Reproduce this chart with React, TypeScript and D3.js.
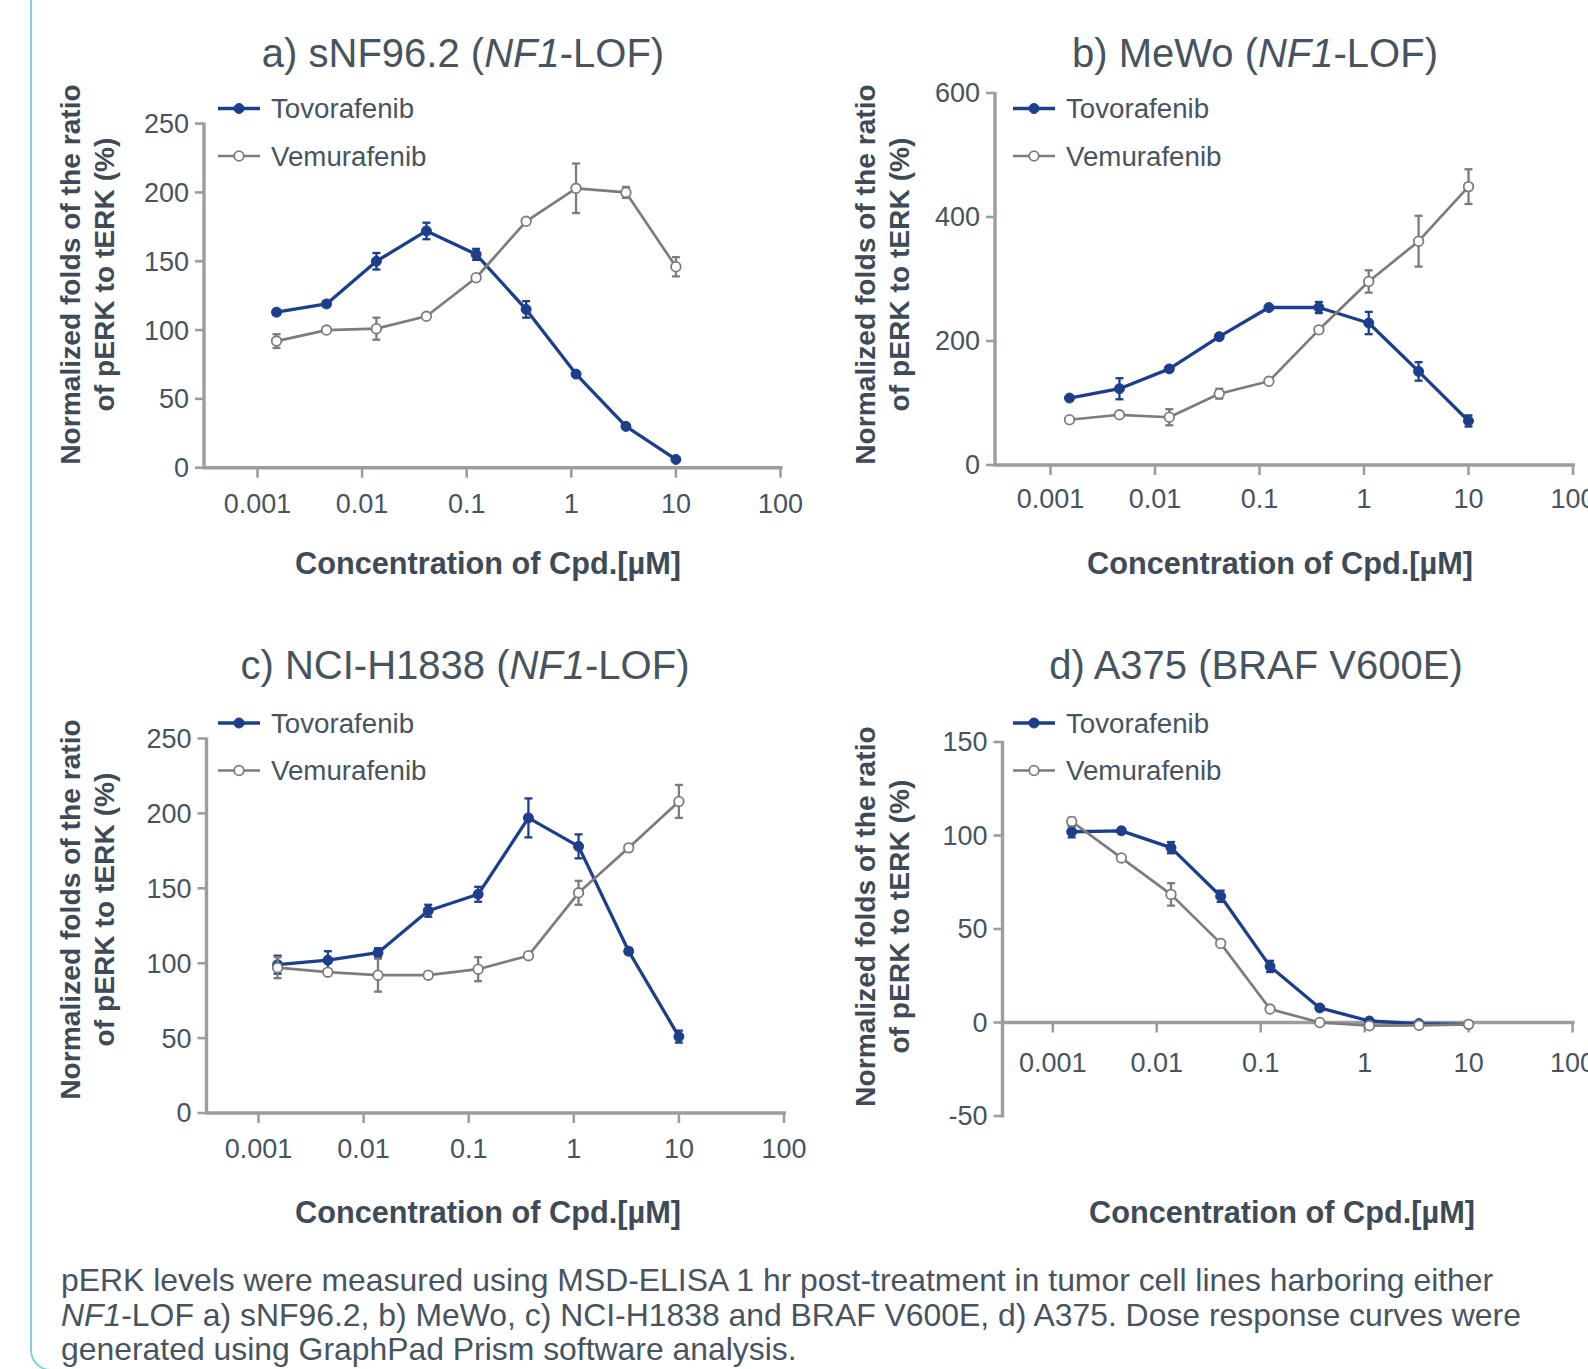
import React from "react";
import * as d3 from "d3";

// 3-fold dilution series, uM
const concentrations = [0.00152, 0.00457, 0.0137, 0.0412, 0.123, 0.37, 1.11, 3.33, 10];
const xTickValues = [0.001, 0.01, 0.1, 1, 10, 100];
const seriesNames = ["Tovorafenib", "Vemurafenib"];

// a) sNF96.2
const tovA = [113, 119, 150, 172, 155, 115, 68, 30, 6];
const tovAErr = [2, 2, 6, 6, 4, 6, 1, 1, 1];
const vemA = [92, 100, 101, 110, 138, 179, 203, 200, 146];
const vemAErr = [5, 1, 8, 1, 1, 1, 18, 4, 7];
const yTicksA = [0, 50, 100, 150, 200, 250];

// b) MeWo
const tovB = [108, 123, 155, 207, 254, 254, 229, 151, 71];
const tovBErr = [3, 17, 4, 3, 4, 9, 18, 15, 9];
const vemB = [73, 81, 77, 115, 135, 218, 296, 361, 449];
const vemBErr = [3, 4, 13, 8, 3, 3, 18, 41, 28];
const yTicksB = [0, 200, 400, 600];

// c) NCI-H1838
const tovC = [99, 102, 107, 135, 146, 197, 178, 108, 51];
const tovCErr = [6, 6, 3, 4, 5, 13, 8, 2, 4];
const vemC = [97, 94, 92, 92, 96, 105, 147, 177, 208];
const vemCErr = [7, 2, 11, 2, 8, 2, 8, 2, 11];
const yTicksC = [0, 50, 100, 150, 200, 250];

// d) A375
const tovD = [102, 102.5, 93.5, 67.5, 30, 7.8, 0.8, -0.6, -1];
const tovDErr = [3, 1, 3, 3, 3, 1, 1, 1, 1];
const vemD = [107.5, 88, 68.5, 42.3, 7.2, 0, -1.7, -1.5, -1];
const vemDErr = [2, 1, 6, 1, 1, 1, 1, 1, 1];
const yTicksD = [-50, 0, 50, 100, 150];

const caption = [
  "pERK levels were measured using MSD-ELISA 1 hr post-treatment in tumor cell lines harboring either",
  "-LOF a) sNF96.2, b) MeWo, c) NCI-H1838 and BRAF V600E, d) A375. Dose response curves were",
  "generated using GraphPad Prism software analysis.",
];

const TOV = "#1c3f8c";
const VEM = "#7c7c7c";
const AXIS = "#9a9ea2";
const TEXT = "#47545f";
const LABEL = "#3e4b57";
const FONT = "'Liberation Sans', Arial, Helvetica, sans-serif";

const panels = [
  {
    pre: "a) sNF96.2 (", ital: "NF1", post: "-LOF)",
    tov: tovA, tovErr: tovAErr, vem: vemA, vemErr: vemAErr, yTicks: yTicksA,
    left: 204, xr: [257.5, 780.5], yr: [467.7, 123.6],
    titleX: 463, titleY: 67, legX: 218, legY: 108.5,
    xTitleX: 488, xTitleY: 574, yTitleX: 70, yTitleY: 274.5, xLabDy: 45,
  },
  {
    pre: "b) MeWo (", ital: "NF1", post: "-LOF)",
    tov: tovB, tovErr: tovBErr, vem: vemB, vemErr: vemBErr, yTicks: yTicksB,
    left: 995, xr: [1050.5, 1573], yr: [465, 93],
    titleX: 1255, titleY: 67, legX: 1013, legY: 108.5,
    xTitleX: 1280, xTitleY: 574, yTitleX: 865, yTitleY: 274.5, xLabDy: 43,
  },
  {
    pre: "c) NCI-H1838 (", ital: "NF1", post: "-LOF)",
    tov: tovC, tovErr: tovCErr, vem: vemC, vemErr: vemCErr, yTicks: yTicksC,
    left: 206.5, xr: [258.5, 784], yr: [1113, 738.5],
    titleX: 465, titleY: 679, legX: 218, legY: 723,
    xTitleX: 488, xTitleY: 1223, yTitleX: 70, yTitleY: 909.5, xLabDy: 45,
  },
  {
    pre: "d) A375 (BRAF V600E)", ital: "", post: "",
    tov: tovD, tovErr: tovDErr, vem: vemD, vemErr: vemDErr, yTicks: yTicksD,
    left: 1002.5, xr: [1052.8, 1572.6], yr: [1116, 742],
    titleX: 1256, titleY: 679, legX: 1013, legY: 723,
    xTitleX: 1282, xTitleY: 1223, yTitleX: 865, yTitleY: 916.6, xLabDy: 49,
  },
];

function Panel({ p }) {
  const yMin = p.yTicks[0];
  const yMax = p.yTicks[p.yTicks.length - 1];
  const x = d3.scaleLog().domain([0.001, 100]).range(p.xr);
  const y = d3.scaleLinear().domain([yMin, yMax]).range(p.yr);
  const y0 = y(Math.max(0, yMin));
  const line = d3
    .line<number>()
    .x((d, i) => x(concentrations[i]))
    .y((d) => y(d));

  const series = [
    { name: seriesNames[0], vals: p.tov, err: p.tovErr, color: TOV, width: 3.3, open: false },
    { name: seriesNames[1], vals: p.vem, err: p.vemErr, color: VEM, width: 2.7, open: true },
  ];

  return (
    <g>
      <text x={p.titleX} y={p.titleY} fontSize={40} fill={TEXT} textAnchor="middle">
        {p.pre}
        {p.ital && <tspan fontStyle="italic">{p.ital}</tspan>}
        {p.post}
      </text>

      {/* axes */}
      <line x1={p.left} x2={p.left} y1={y(yMin) + 1.5} y2={y(yMax) - 1} stroke={AXIS} strokeWidth={3.4} />
      <line x1={p.left} x2={x(100) + 2} y1={y0} y2={y0} stroke={AXIS} strokeWidth={3.4} />
      {p.yTicks.map((t) => (
        <g key={"y" + t}>
          <line x1={p.left - 9} x2={p.left} y1={y(t)} y2={y(t)} stroke={AXIS} strokeWidth={2.6} />
          <text x={p.left - 15} y={y(t)} dy="0.35em" textAnchor="end" fontSize={27} fill={TEXT}>
            {t}
          </text>
        </g>
      ))}
      {xTickValues.map((t) => (
        <g key={"x" + t}>
          <line x1={x(t)} x2={x(t)} y1={y0} y2={y0 + 10} stroke={AXIS} strokeWidth={2.6} />
          <text x={x(t)} y={y0 + p.xLabDy} textAnchor="middle" fontSize={27} fill={TEXT}>
            {String(t)}
          </text>
        </g>
      ))}

      <text x={p.xTitleX} y={p.xTitleY} textAnchor="middle" fontSize={30.7} fontWeight="bold" fill={LABEL}>
        Concentration of Cpd.[µM]
      </text>
      <g transform={`translate(${p.yTitleX},${p.yTitleY}) rotate(-90)`}>
        <text textAnchor="middle" dy="0.35em" fontSize={28.2} fontWeight="bold" fill={LABEL}>
          Normalized folds of the ratio
        </text>
        <text y={34} textAnchor="middle" dy="0.35em" fontSize={28.2} fontWeight="bold" fill={LABEL}>
          of pERK to tERK (%)
        </text>
      </g>

      {/* data */}
      {series.map((s) => (
        <g key={s.name}>
          <path d={line(s.vals)} fill="none" stroke={s.color} strokeWidth={s.width} strokeLinejoin="round" />
          {s.vals.map((v, i) => {
            const cx = x(concentrations[i]);
            const lo = y(v - s.err[i]);
            const hi = y(v + s.err[i]);
            return (
              <g key={i} stroke={s.color} strokeWidth={2.3}>
                <line x1={cx} x2={cx} y1={lo} y2={hi} />
                <line x1={cx - 4} x2={cx + 4} y1={lo} y2={lo} />
                <line x1={cx - 4} x2={cx + 4} y1={hi} y2={hi} />
              </g>
            );
          })}
          {s.vals.map((v, i) => (
            <circle
              key={"m" + i}
              cx={x(concentrations[i])}
              cy={y(v)}
              r={s.open ? 4.8 : 5}
              fill={s.open ? "#fff" : s.color}
              stroke={s.color}
              strokeWidth={s.open ? 1.8 : 1}
            />
          ))}
        </g>
      ))}

      {/* legend */}
      {series.map((s, k) => {
        const ly = p.legY + k * 47.5;
        return (
          <g key={"leg" + k}>
            <line x1={p.legX} x2={p.legX + 42} y1={ly} y2={ly} stroke={s.color} strokeWidth={s.width} />
            <circle
              cx={p.legX + 21}
              cy={ly}
              r={s.open ? 4.8 : 5}
              fill={s.open ? "#fff" : s.color}
              stroke={s.color}
              strokeWidth={s.open ? 1.8 : 1}
            />
            <text x={p.legX + 53} y={ly} dy="0.35em" fontSize={27.7} fill={TEXT}>
              {s.name}
            </text>
          </g>
        );
      })}
    </g>
  );
}

export default function App() {
  return (
    <svg
      width={1588}
      height={1369}
      style={{ position: "absolute", left: 0, top: 0, background: "#fff" }}
      fontFamily={FONT}
    >
      <rect x={31} y={-60} width={2000} height={1430} rx={20} fill="none" stroke="#7fcfe0" strokeWidth={2} />
      {panels.map((p, i) => (
        <Panel key={i} p={p} />
      ))}
      <g fontSize={31.9} fill={TEXT}>
        <text x={61} y={1291}>{caption[0]}</text>
        <text x={61} y={1325.5}>
          <tspan fontStyle="italic">NF1</tspan>
          {caption[1]}
        </text>
        <text x={61} y={1360}>{caption[2]}</text>
      </g>
    </svg>
  );
}
